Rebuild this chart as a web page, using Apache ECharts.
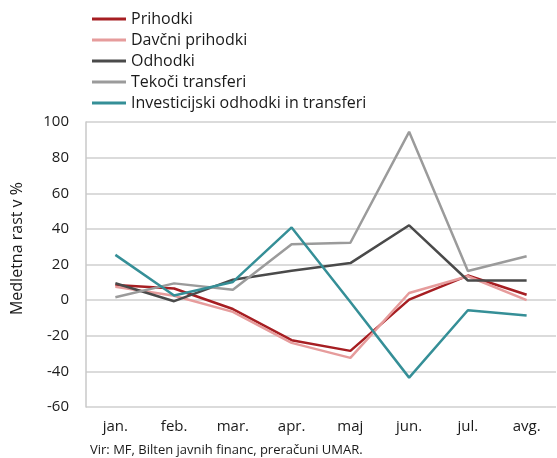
<!DOCTYPE html>
<html>
<head>
<meta charset="utf-8">
<script src="https://cdn.jsdelivr.net/npm/echarts@6/dist/echarts.min.js"></script>
<style>
  html, body { margin: 0; padding: 0; background: #fff; }
  #chart { width: 557px; height: 458px; }
</style>
</head>
<body>
<div id="chart"></div>
<script>
const months = ['jan.', 'feb.', 'mar.', 'apr.', 'maj', 'jun.', 'jul.', 'avg.'];

const prihodki = [8.5, 6.5, -5, -22.5, -28.5, 0.3, 13.8, 3];
const davcniPrihodki = [7.5, 2.5, -6.6, -24, -32.4, 4, 13.4, 0];
const odhodki = [9.5, -0.6, 11.5, 16.5, 20.8, 42, 11, 11];
const tekociTransferi = [1.6, 9.4, 5.8, 31.4, 32.2, 94.5, 16.4, 24.6];
const investicijski = [25.4, 2.6, 10.2, 40.8, -1, -43.5, -5.7, -8.6];

const yTicks = { min: -60, max: 100, interval: 20 };

const font = '"Open Sans", "Noto Sans", sans-serif';
const chart = echarts.init(document.getElementById('chart'));

const seriesDefs = [
  { name: 'Prihodki', data: prihodki, color: '#a61e22' },
  { name: 'Davčni prihodki', data: davcniPrihodki, color: '#e69c9c' },
  { name: 'Odhodki', data: odhodki, color: '#4a4a4a' },
  { name: 'Tekoči transferi', data: tekociTransferi, color: '#9b9b9b' },
  { name: 'Investicijski odhodki in transferi', data: investicijski, color: '#358f97' }
];

chart.setOption({
  animation: false,
  textStyle: { fontFamily: font },
  legend: {
    orient: 'vertical',
    left: 87,
    top: 6,
    itemWidth: 34,
    itemHeight: 3,
    itemGap: 5,
    icon: 'rect',
    textStyle: { fontSize: 16, color: '#1a1a1a', fontFamily: font },
    data: seriesDefs.map(s => s.name)
  },
  grid: { left: 86, right: 1, top: 122, bottom: 51 },
  xAxis: {
    type: 'category',
    data: months,
    boundaryGap: true,
    axisLine: { show: false },
    axisTick: { show: false },
    axisLabel: { color: '#1a1a1a', fontSize: 15, margin: 12 }
  },
  yAxis: {
    type: 'value',
    min: yTicks.min,
    max: yTicks.max,
    interval: yTicks.interval,
    axisLine: { show: true, lineStyle: { color: '#c8c8c8', width: 1.5 } },
    axisTick: { show: false },
    axisLabel: { color: '#1a1a1a', fontSize: 15, margin: 17 },
    splitLine: { lineStyle: { color: '#cfcfcf', width: 1.5 } }
  },
  graphic: [
    {
      type: 'text',
      left: 9,
      top: 182,
      rotation: Math.PI / 2,
      style: { text: 'Medletna rast v %', fill: '#1a1a1a', font: '16px ' + font }
    },
    {
      type: 'text',
      left: 90,
      top: 444,
      style: { text: 'Vir: MF, Bilten javnih financ, preračuni UMAR.', fill: '#1a1a1a', font: '13px ' + font }
    }
  ],
  series: seriesDefs.map(s => ({
    name: s.name,
    type: 'line',
    data: s.data,
    symbol: 'none',
    color: s.color,
    lineStyle: { width: 2.5, color: s.color }
  }))
});
</script>
</body>
</html>
